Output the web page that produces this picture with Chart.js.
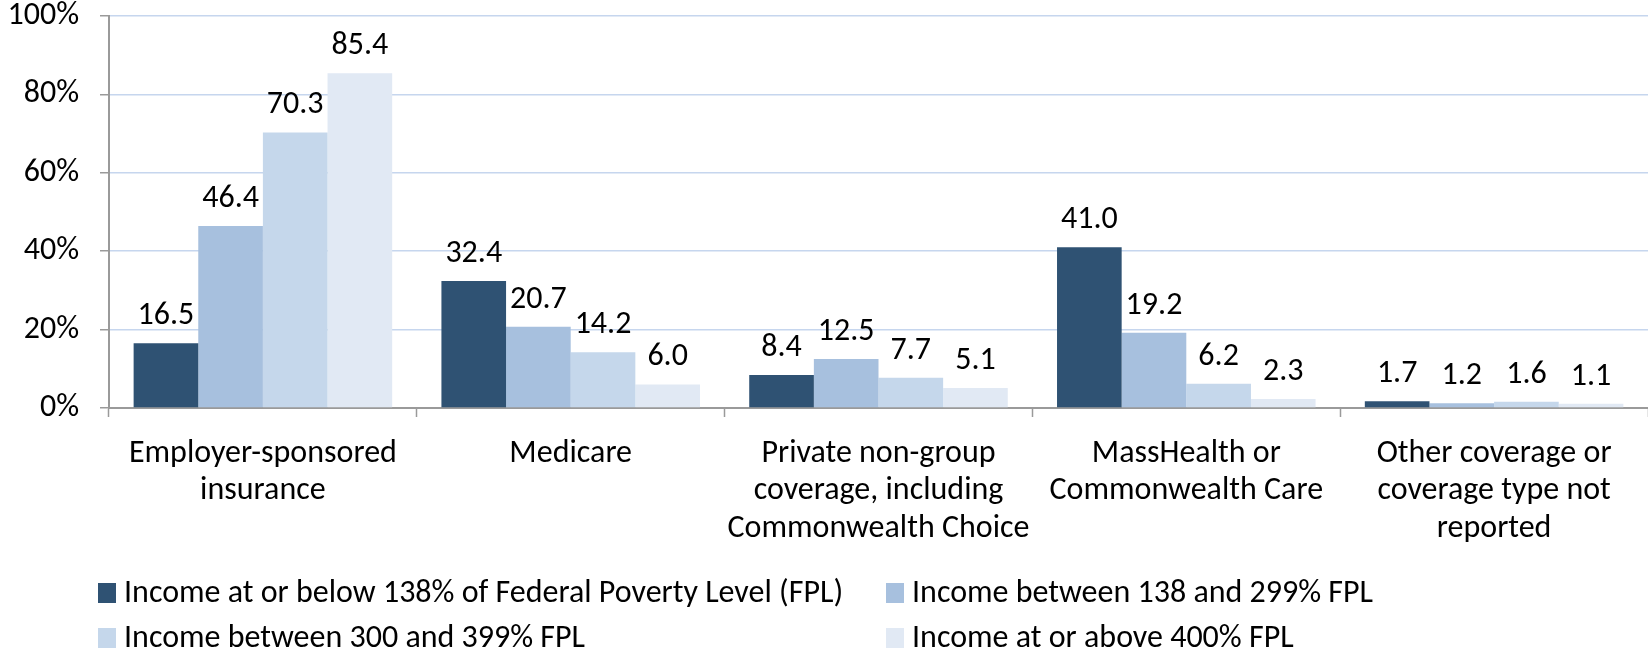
<!DOCTYPE html>
<html>
<head>
<meta charset="utf-8">
<script src="https://cdn.jsdelivr.net/npm/chart.js@4/dist/chart.umd.min.js"></script>
<style>
  html, body { margin: 0; padding: 0; background: #ffffff; }
  #wrap { width: 1648px; height: 654px; position: relative; }
</style>
</head>
<body>
<div id="wrap"><canvas id="c" width="1648" height="654"></canvas></div>
<script>
// ---- data ----
const categories = [
  ['Employer-sponsored', 'insurance'],
  ['Medicare'],
  ['Private non-group', 'coverage, including', 'Commonwealth Choice'],
  ['MassHealth or', 'Commonwealth Care'],
  ['Other coverage or', 'coverage type not', 'reported']
];
const seriesNames = [
  'Income at or below 138% of Federal Poverty Level (FPL)',
  'Income between 138 and 299% FPL',
  'Income between 300 and 399% FPL',
  'Income at or above 400% FPL'
];
const belowFPL138 = [16.5, 32.4, 8.4, 41.0, 1.7];
const between138and299 = [46.4, 20.7, 12.5, 19.2, 1.2];
const between300and399 = [70.3, 14.2, 7.7, 6.2, 1.6];
const above400 = [85.4, 6.0, 5.1, 2.3, 1.1];
const yTicks = [0, 20, 40, 60, 80, 100];

// ---- styles ----
const colors = ['#2f5273', '#a7c0de', '#c5d7eb', '#e1e9f4'];
const FONT = 'Carlito, Lato, "Open Sans", sans-serif';
const FS = 32;

const valueLabels = {
  id: 'valueLabels',
  afterDatasetsDraw(chart) {
    const ctx = chart.ctx;
    ctx.save();
    ctx.font = FS + 'px ' + FONT;
    ctx.fillStyle = '#000';
    ctx.textAlign = 'center';
    ctx.textBaseline = 'alphabetic';
    chart.data.datasets.forEach((ds, i) => {
      const meta = chart.getDatasetMeta(i);
      meta.data.forEach((bar, j) => {
        ctx.fillText(ds.data[j].toFixed(1), bar.x, bar.y - 19);
      });
    });
    ctx.restore();
  }
};

const gridLegend = {
  id: 'gridLegend',
  afterDraw(chart) {
    const ctx = chart.ctx;
    const colX = [98, 886];
    const rowY = [593, 638];
    ctx.save();
    ctx.font = FS + 'px ' + FONT;
    ctx.textAlign = 'left';
    ctx.textBaseline = 'middle';
    chart.data.datasets.forEach((ds, i) => {
      const x = colX[i % 2];
      const y = rowY[Math.floor(i / 2)];
      ctx.fillStyle = ds.backgroundColor;
      ctx.fillRect(x, y - 10, 18, 20);
      ctx.fillStyle = '#000';
      ctx.fillText(ds.label, x + 26, y + 1);
    });
    ctx.restore();
  }
};

const seriesData = [belowFPL138, between138and299, between300and399, above400];

new Chart(document.getElementById('c'), {
  type: 'bar',
  data: {
    labels: categories,
    datasets: seriesData.map((d, i) => ({
      label: seriesNames[i],
      data: d,
      backgroundColor: colors[i],
      borderWidth: 0,
      categoryPercentage: 0.84,
      barPercentage: 1.0
    }))
  },
  options: {
    responsive: false,
    animation: false,
    devicePixelRatio: 1,
    layout: { padding: { top: 16, left: 0, right: 0, bottom: 0 } },
    plugins: {
      legend: { display: false },
      tooltip: { enabled: false },
      title: { display: false }
    },
    scales: {
      x: {
        grid: {
          offset: true,
          drawOnChartArea: false,
          drawTicks: true,
          tickLength: 9,
          tickColor: '#9a9a9a',
          tickWidth: 1.5
        },
        border: { color: '#9a9a9a', width: 2 },
        ticks: {
          color: '#000',
          font: { family: FONT, size: FS, lineHeight: 1.17 },
          padding: 18,
          maxRotation: 0,
          autoSkip: false
        },
        afterFit(scale) { scale.height = 246; scale.paddingLeft = 0; scale.paddingRight = 0; }
      },
      y: {
        min: 0,
        max: 100,
        afterBuildTicks(scale) { scale.ticks = yTicks.map(v => ({ value: v })); },
        grid: {
          color: '#c6d6ee',
          lineWidth: 1.5,
          drawTicks: true,
          tickLength: 9,
          tickColor: '#9a9a9a'
        },
        border: { color: '#9a9a9a', width: 2 },
        ticks: {
          color: '#000',
          font: { family: FONT, size: FS },
          padding: 21,
          callback: v => v + '%'
        },
        afterFit(scale) { scale.width = 109; scale.paddingTop = 0; scale.paddingBottom = 0; }
      }
    }
  },
  plugins: [valueLabels, gridLegend]
});
</script>
</body>
</html>
